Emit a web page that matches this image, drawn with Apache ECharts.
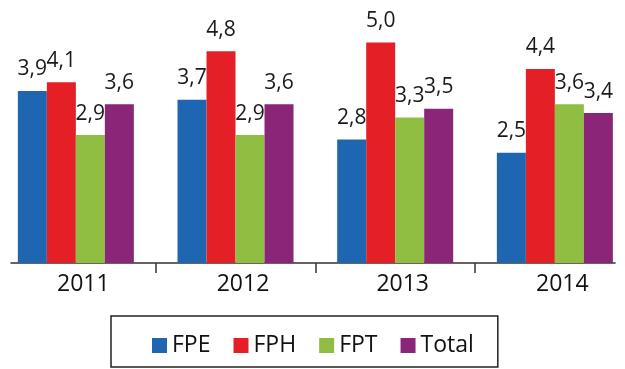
<!DOCTYPE html>
<html>
<head>
<meta charset="utf-8">
<script src="https://cdn.jsdelivr.net/npm/echarts@6/dist/echarts.min.js"></script>
<style>
  html, body { margin: 0; padding: 0; background: #fff; }
  #chart { width: 625px; height: 369px; }
</style>
</head>
<body>
<div id="chart"></div>
<script>
// Yearly figures per programme
const years = ['2011', '2012', '2013', '2014'];
const seriesNames = ['FPE', 'FPH', 'FPT', 'Total'];
const fpe = [3.9, 3.7, 2.8, 2.5];
const fph = [4.1, 4.8, 5.0, 4.4];
const fpt = [2.9, 2.9, 3.3, 3.6];
const total = [3.6, 3.6, 3.5, 3.4];
const colors = ['#1f66b2', '#e41f26', '#8fbe43', '#8a2577'];

const FONT = '"Open Sans", "Noto Sans", sans-serif';
const values = [fpe, fph, fpt, total];

const chart = echarts.init(document.getElementById('chart'), null, { renderer: 'canvas' });

const series = seriesNames.map((name, i) => ({
  name: name,
  type: 'bar',
  xAxisIndex: 0,
  yAxisIndex: 0,
  data: values[i],
  barWidth: 29,
  barGap: '0%',
  itemStyle: { color: colors[i] },
  label: {
    show: true,
    position: 'top',
    distance: 11,
    fontFamily: FONT,
    fontSize: 21,
    color: '#1a1a1a',
    formatter: p => p.value.toFixed(1).replace('.', ',')
  }
}));

chart.setOption({
  animation: false,
  backgroundColor: '#ffffff',
  grid: [
    // plotting band runs slightly past both canvas edges
    { left: -4, width: 638.7, top: 42.5, height: 220.5, outerBoundsMode: 'none', containLabel: false },
    { left: 11, right: 10, top: 42.5, height: 220.5, outerBoundsMode: 'none', containLabel: false }
  ],
  xAxis: [
    {
      gridIndex: 0,
      type: 'category',
      data: years,
      axisLine: { show: false },
      axisTick: {
        show: true,
        alignWithLabel: false,
        interval: 0,
        length: 10,
        lineStyle: { color: '#333', width: 1.5 }
      },
      axisLabel: {
        fontFamily: FONT,
        fontSize: 23,
        color: '#111',
        margin: 10,
        padding: [0, 0, 0, 15]
      }
    },
    {
      gridIndex: 1,
      type: 'category',
      data: years,
      axisLine: { show: true, lineStyle: { color: '#333', width: 1.6 } },
      axisTick: { show: false },
      axisLabel: { show: false }
    }
  ],
  yAxis: [
    { gridIndex: 0, type: 'value', min: 0, max: 5, show: false, splitLine: { show: false } },
    { gridIndex: 1, type: 'value', min: 0, max: 5, show: false, splitLine: { show: false } }
  ],
  legend: {
    data: seriesNames,
    left: 111,
    top: 316,
    orient: 'horizontal',
    itemWidth: 15,
    itemHeight: 15,
    itemGap: 23,
    icon: 'rect',
    padding: [18, 24, 10, 41],
    borderColor: '#222',
    borderWidth: 1.5,
    textStyle: {
      fontFamily: FONT,
      fontSize: 23,
      lineHeight: 22,
      color: '#111'
    }
  },
  series: series
});
</script>
</body>
</html>
